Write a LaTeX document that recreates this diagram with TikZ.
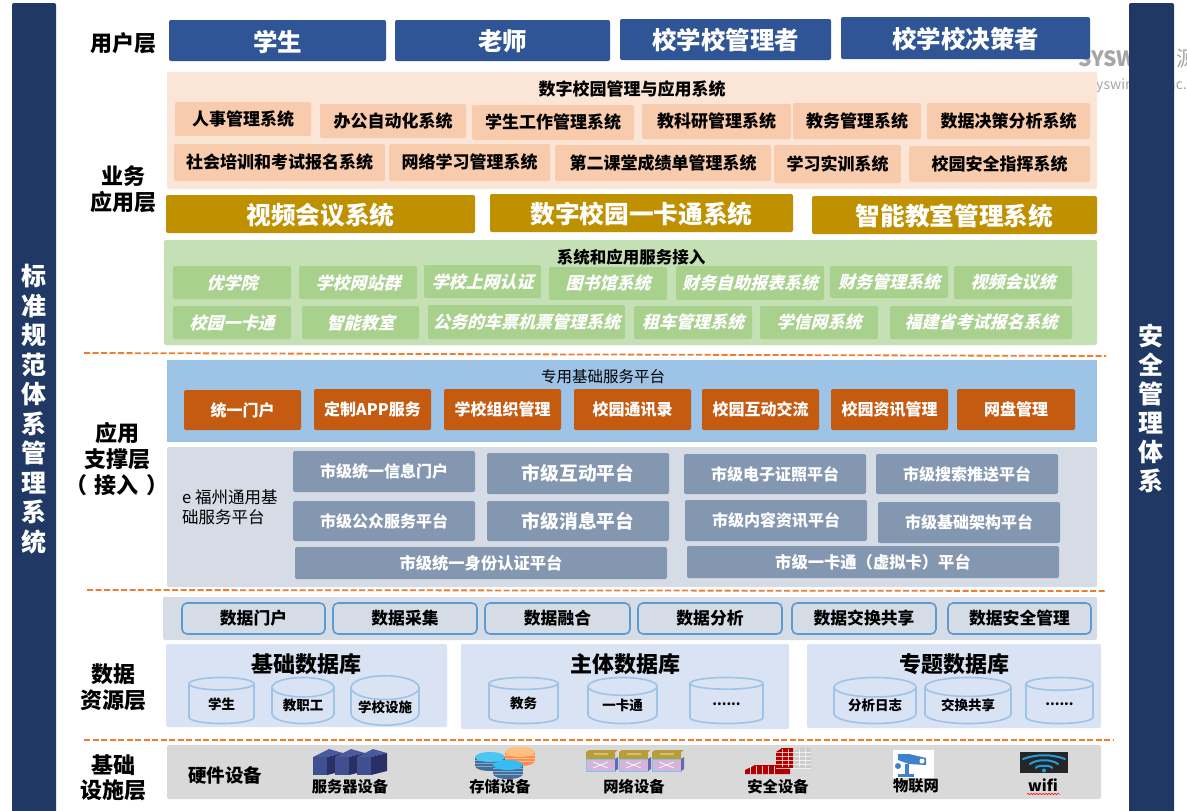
\documentclass[tikz,border=0pt]{standalone}
\usepackage{fontspec}
\setmainfont{Noto Sans CJK SC}
\newfontfamily\slantfont[FakeSlant=0.25]{Noto Sans CJK SC}
\usetikzlibrary{shapes.geometric,decorations.pathmorphing}
\definecolor{barblue}{HTML}{1F3864}
\definecolor{userblue}{HTML}{2F5597}
\definecolor{peachbg}{HTML}{FBE5D6}
\definecolor{peach}{HTML}{F8CBAD}
\definecolor{gold}{HTML}{BF9000}
\definecolor{greenbg}{HTML}{C5E0B4}
\definecolor{greenbox}{HTML}{A9D18E}
\definecolor{skybg}{HTML}{9DC3E6}
\definecolor{btnblue}{HTML}{5B9BD5}
\definecolor{rust}{HTML}{C55A11}
\definecolor{slatebg}{HTML}{D6DCE5}
\definecolor{slatebox}{HTML}{8497B0}
\definecolor{dbbg}{HTML}{DAE3F3}
\definecolor{dashline}{HTML}{ED7D31}
\definecolor{hwgrey}{HTML}{D9D9D9}
\definecolor{srvfront}{HTML}{3F4F8F}
\definecolor{srvtop}{HTML}{4A5A9F}
\definecolor{srvside}{HTML}{2A2F66}
\newcommand{\fsz}[1]{\fontsize{#1}{#1}\selectfont}
\newcommand{\moredots}{......}
\tikzset{
  panel/.style={rounded corners=2pt},
  lab/.style={inner sep=0pt,align=center},
  layerlab/.style={lab,font=\fsz{22}\bfseries,text depth=0pt},
  dbcyl/.style={cylinder,shape border rotate=90,draw=skybg,line width=1.6pt,inner sep=0pt,
    minimum height=46pt,font=\fsz{13.5}\bfseries},
  hwlab/.style={lab,font=\fsz{15.3}\bfseries},
  divider/.style={dashline,line width=1.8pt,dash pattern=on 6pt off 2.5pt},
}
\begin{document}
\begin{tikzpicture}[x=1pt,y=-1pt]
\path[use as bounding box,clip] (0,0) rectangle (1187,811);
\fill[white] (0,0) rectangle (1187,811);
% watermark
\node[lab,anchor=west,text=black!35,font=\fsz{21}\bfseries] (wmark) at (1078,59) {SYSWIN};
\node[lab,anchor=west,text=black!35,font=\fsz{21}] (wmarkb) at (1176,59) {源};
\node[lab,anchor=west,text=black!35,font=\fsz{14}] (wmarkc) at (1096,86) {yswin};
\node[lab,anchor=east,text=black!35,font=\fsz{14}] (wmarkd) at (1187,86) {nc.};
% side bars
\fill[barblue,panel] (12,3) rectangle (56,820);
\fill[barblue,panel] (1129,3) rectangle (1174,820);
\node[lab,text=white,font=\fsz{25}\bfseries,text depth=0pt] (stdbar) at (34,408) {标\\[4.5pt]准\\[4.5pt]规\\[4.5pt]范\\[4.5pt]体\\[4.5pt]系\\[4.5pt]管\\[4.5pt]理\\[4.5pt]系\\[4.5pt]统};
\node[lab,text=white,font=\fsz{25}\bfseries,text depth=0pt] (secbar) at (1151,407) {安\\[4pt]全\\[4pt]管\\[4pt]理\\[4pt]体\\[4pt]系};
% layer labels
\node[layerlab] (userlab) at (123,42) {用户层};
\node[layerlab] (bizlab) at (123,188) {业务\\[4pt]应用层};
\node[layerlab] (applab) at (117,458) {应用\\[4pt]支撑层\\[4pt]（\,\,接入\,\,）};
\node[layerlab] (datalab) at (113,686) {数据\\[4pt]资源层};
\node[layerlab] (baselab) at (113,777) {基础\\[3pt]设施层};
% user layer
\foreach \nm/\xa/\ya/\xb/\yb/\txt in {ustu/169/20/386/61/学生,utea/395/20/610/61/老师,umgr/620/19/831/60/校学校管理者,udec/841/17/1090/59/校学校决策者}
\path[fill=userblue,panel] (\xa,\ya) rectangle (\xb,\yb) node[midway,lab,yshift=-1pt,text=white,font=\fsz{24.5}\bfseries] (\nm) {\txt};
% business layer
\fill[peachbg,panel] (167,72) rectangle (1097,189);
\node[lab,font=\fsz{17}\bfseries] (biztitle) at (632,89) {数字校园管理与应用系统};
\foreach \nm/\xa/\ya/\xb/\yb/\txt in {hr/175/102/311/136/人事管理系统,oa/320/104/466/138/办公自动化系统,swk/472/105/634/140/学生工作管理系统,res/642/104/791/139/教科研管理系统,edu/793/103/921/139/教务管理系统,dss/927/103/1090/139/数据决策分析系统,
train/174/144/385/181/社会培训和考试报名系统,elrn/389/144/550/181/网络学习管理系统,cls/555/145/771/181/第二课堂成绩单管理系统,prac/774/145/901/183/学习实训系统,safe/909/146/1090/182/校园安全指挥系统}
\path[fill=peach,panel] (\xa,\ya) rectangle (\xb,\yb) node[midway,lab,font=\fsz{17}\bfseries] (\nm) {\txt};
\foreach \nm/\xa/\ya/\xb/\yb/\txt in {video/166/195/475/233/视频会议系统,card/490/194/793/232/数字校园一卡通系统,smart/812/196/1097/234/智能教室管理系统}
\path[fill=gold,panel] (\xa,\ya) rectangle (\xb,\yb) node[midway,lab,yshift=-1pt,text=white,font=\fsz{24.7}\bfseries] (\nm) {\txt};
\fill[greenbg,panel] (164,240) rectangle (1097,345);
\node[lab,font=\fsz{16.5}\bfseries] (svctitle) at (631,257) {系统和应用服务接入};
\foreach \nm/\xa/\ya/\xb/\yb/\txt in {yxy/173/266/291/299/优学院,site/299/266/417/299/学校网站群,auth/424/265/541/298/学校上网认证,lib/549/267/667/300/图书馆系统,fin/676/266/824/300/财务自助报表系统,fmg/830/266/948/298/财务管理系统,vid/954/266/1072/299/视频会议统,
ecard/173/306/291/339/校园一卡通,sroom/302/306/419/339/智能教室,tick/428/305/625/339/公务的车票机票管理系统,car/634/306/752/339/租车管理系统,xinw/760/306/878/339/学信网系统,exam/890/306/1072/339/福建省考试报名系统}
\path[fill=greenbox,panel] (\xa,\ya) rectangle (\xb,\yb) node[midway,lab,text=white,font=\fsz{17}\slantfont\bfseries] (\nm) {\txt};
\draw[divider] (84,353) -- (1106,356);
% support layer
\fill[skybg] (167,360) rectangle (1097,442);
\node[lab,font=\fsz{15.5}] (deditle) at (603,377) {专用基础服务平台};
\foreach \nm/\xa/\ya/\xb/\txt in {port/184/390/301/统一门户,capp/314/389/431/定制APP服务,org/444/389/561/学校组织管理,addr/574/389/691/校园通讯录,chat/702/389/819/校园互动交流,news/831/389/948/校园资讯管理,disk/957/389/1075/网盘管理}
\path[fill=rust,panel] (\xa,\ya) rectangle (\xb,430) node[midway,lab,text=white,font=\fsz{16}\bfseries] (\nm) {\txt};
\fill[slatebg,panel] (167,447) rectangle (1097,587);
\node[lab,anchor=west,align=left,font=\fsz{16.5}] (efz) at (182,507) {e 福州通用基\\[4pt]础服务平台};
\foreach \nm/\xa/\ya/\xb/\yb/\sz/\txt in {ginfo/293/451/475/492/16/市级统一信息门户,gint/487/453/669/494/18.7/市级互动平台,gcert/684/454/866/494/16/市级电子证照平台,gsear/876/454/1058/494/16/市级搜索推送平台,
gpub/293/501/475/541/16/市级公众服务平台,gmsg/487/501/669/541/18.7/市级消息平台,gcont/685/500/867/541/16/市级内容资讯平台,gbase/878/502/1060/543/16/市级基础架构平台,
gid/295/547/667/579/16.3/市级统一身份认证平台,gcard/687/546/1059/578/16.3/市级一卡通（虚拟卡）平台}
\path[fill=slatebox,panel] (\xa,\ya) rectangle (\xb,\yb) node[midway,lab,text=white,font=\fsz{\sz}\bfseries] (\nm) {\txt};
\draw[divider] (87,590) -- (1106,591);
% data layer
\fill[slatebg,panel] (163,597) rectangle (1097,640);
\foreach \nm/\xa/\xb/\txt in {dport/182/325/数据门户,dcoll/333/477/数据采集,dfuse/485/630/数据融合,dana/638/782/数据分析,dswap/792/936/数据交换共享,dsafe/948/1091/数据安全管理}
\path[draw=btnblue,line width=1.6pt,rounded corners=5pt] (\xa,603) rectangle (\xb,634) node[midway,lab,font=\fsz{16.8}\bfseries] (\nm) {\txt};
\foreach \nm/\xa/\yb/\xb/\txt in {basedb/166/727/447/基础数据库,maindb/461/729/789/主体数据库,topdb/807/728/1101/专题数据库}
{\fill[dbbg,panel] (\xa,644) rectangle (\xb,\yb);
\path (\xa,664) -- (\xb,664) node[midway,lab,font=\fsz{22}\bfseries] (\nm) {\txt};}
\foreach \nm/\cx/\cw/\asp/\txt in {cstu/221.5/65/.46/学生,cstaff/303/62/.48/教职工,cfac/385/68/.44/学校设施,cedu/523.5/69/.44/教务,ccard/622.5/69/.44/一卡通,cmore/726.5/73/.41/\moredots,clog/875/82/.36/分析日志,cswap/968/86/.35/交换共享,cetc/1059.5/67/.45/\moredots}
\node[dbcyl,minimum width=\cw pt,aspect=\asp,anchor=shape center] (\nm) at (\cx,700.5) {\txt};
\draw[divider] (84,740) -- (1113,740);
% infrastructure layer
\fill[hwgrey,panel] (167,745) rectangle (1101,799);
\node[lab,font=\fsz{18.5}\bfseries] (hwtitle) at (225,775) {硬件设备};
\node[hwlab] (hwsrv) at (350,787) {服务器设备};
\node[hwlab] (hwsto) at (500,787) {存储设备};
\node[hwlab] (hwnet) at (634,787) {网络设备};
\node[hwlab] (hwsec) at (778,787) {安全设备};
\node[hwlab] (hwiot) at (916,786) {物联网};
\node[hwlab] (hwwifi) at (1043,785) {wifi};
\draw[red,line width=0.5pt,decorate,decoration={snake,amplitude=0.7pt,segment length=3pt}] (1027,794) -- (1060,794);
% server icon
\foreach \dx in {0,22,44}{
\fill[srvfront] (313+\dx,757) rectangle (327+\dx,775);
\fill[srvtop] (313+\dx,757) -- (329+\dx,749) -- (343+\dx,753) -- (327+\dx,757) -- cycle;
\fill[srvside] (327+\dx,757) -- (343+\dx,753) -- (343+\dx,771) -- (327+\dx,775) -- cycle;}
% storage icon
\foreach \cx/\cy/\body/\capc in {520/752/orange!70!red!70!white/orange!50!white,490/757/cyan!60!blue!70!black/cyan!70!white,508/765/cyan!60!blue!70!black/cyan!80!white}{
\fill[\body] (\cx-15,\cy) rectangle (\cx+15,\cy+9);
\fill[\body] (\cx,\cy+9) ellipse (15 and 5);
\foreach \ly in {3,6,9} \draw[white,opacity=.4,line width=.4pt] (\cx-15,\cy+\ly) -- (\cx+15,\cy+\ly);
\fill[\capc] (\cx,\cy) ellipse (15 and 5);}
% network icon
\foreach \x in {586,619,652}{
\fill[yellow!60!orange!70!black] (\x,752) -- (\x+3,750) -- (\x+32,750) -- (\x+29,752) -- (\x+29,759) -- (\x,759) -- cycle;
\fill[violet!30!white] (\x,759) rectangle (\x+29,771);
\draw[cyan!60!white,line width=.8pt] (\x,759) rectangle (\x+29,771);
\fill[blue!50!black!60] (\x+29,759) -- (\x+32,757) -- (\x+32,769) -- (\x+29,771) -- cycle;
\draw[white,line width=.7pt] (\x+7,762) -- (\x+22,768) (\x+7,768) -- (\x+22,762) (\x+8,754) -- (\x+22,754);}
% firewall icon
\fill[red!70!black] (745,774) -- (745,770) -- (755,765) -- (790,765) -- (790,774) -- cycle;
\fill[red!70!black] (776,752) -- (782,748) -- (793,748) -- (793,768) -- (776,768) -- cycle;
\fill[black!20] (793,752) -- (799,748) -- (811,748) -- (811,768) -- (793,768) -- cycle;
\foreach \ly in {752,756,760,764,768} \draw[white,line width=.5pt,opacity=.7] (776,\ly) -- (811,\ly);
\foreach \lx in {750,756,762,768,774} \draw[white,line width=.5pt,opacity=.8] (\lx,766) -- (\lx,774);
\foreach \lx in {782,788,799,805} \draw[white,line width=.5pt,opacity=.7] (\lx,749) -- (\lx,767);
% camera icon
\fill[white] (893,750) rectangle (934,778);
\fill[cyan!50!blue!80] (898,754) -- (909,754) -- (926,758) -- (926,765) -- (909,764) -- (898,760) -- cycle;
\fill[white] (922,761) circle (2.5);
\fill[cyan!50!blue!80] (905,764) rectangle (909,774);
\fill[cyan!50!blue!80] (898,774) rectangle (914,777);
\fill[cyan!50!blue!80] (898,766) circle (3);
% wifi icon
\fill[black!85] (1020,752) rectangle (1068,773);
\foreach \ya/\yb/\xa/\xb in {759/754/1023/1065,764/759/1030/1058,768/765/1036/1052}
\draw[cyan!80!blue!90,line width=2pt,line cap=round] (\xa,\ya) .. controls (1036,\yb) and (1052,\yb) .. (\xb,\ya);
\fill[cyan!80!blue!90] (1044,770.5) circle (2);
\end{tikzpicture}
\end{document}
